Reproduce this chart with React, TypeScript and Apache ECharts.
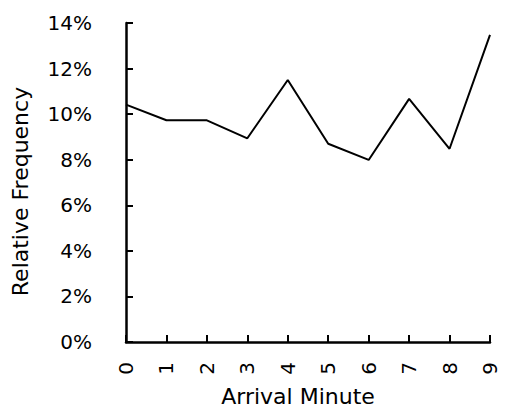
import React, { useEffect, useRef } from "react";
import * as echarts from "echarts";

const minutes = ["0", "1", "2", "3", "4", "5", "6", "7", "8", "9"];
const relFreq = [10.42, 9.73, 9.73, 8.94, 11.5, 8.7, 7.99, 10.67, 8.48, 13.48];
const yTicks = { min: 0, max: 14, interval: 2 };

const FONT = "DejaVu Sans";

export default function App() {
  const ref = useRef<HTMLDivElement>(null);
  useEffect(() => {
    if (!ref.current) return;
    const chart = echarts.init(ref.current, undefined, { renderer: "svg" });
    chart.setOption({
      animation: false,
      backgroundColor: "#fff",
      textStyle: { fontFamily: FONT, color: "#000" },
      grid: { left: 126, right: 15, top: 23, bottom: 70 },
      xAxis: {
        type: "category",
        data: minutes,
        boundaryGap: false,
        name: "Arrival Minute",
        nameLocation: "middle",
        nameGap: 43,
        nameTextStyle: { fontSize: 22, color: "#000", fontFamily: FONT, padding: [0, 20, 0, 0] },
        axisLine: { lineStyle: { color: "#000", width: 2.5 } },
        axisTick: { inside: true, length: 7, lineStyle: { color: "#000", width: 2 } },
        axisLabel: { rotate: 90, fontSize: 20, color: "#000", margin: 20, fontFamily: FONT },
        splitLine: { show: false },
      },
      yAxis: {
        type: "value",
        min: yTicks.min,
        max: yTicks.max,
        interval: yTicks.interval,
        name: "Relative Frequency",
        nameLocation: "middle",
        nameGap: 95,
        nameTextStyle: { fontSize: 22, color: "#000", fontFamily: FONT, padding: [0, 18, 0, 0] },
        axisLine: { show: true, lineStyle: { color: "#000", width: 2.5 } },
        axisTick: { show: true, inside: true, length: 7, lineStyle: { color: "#000", width: 2 } },
        axisLabel: { fontSize: 20, color: "#000", margin: 34, fontFamily: FONT, formatter: (v: number) => `${v}%` },
        splitLine: { show: false },
      },
      series: [
        {
          type: "line",
          data: relFreq,
          symbol: "none",
          lineStyle: { color: "#000", width: 2 },
        },
      ],
    });
    return () => chart.dispose();
  }, []);
  return <div ref={ref} style={{ width: 505, height: 412, position: "absolute", left: 0, top: 0 }} />;
}
